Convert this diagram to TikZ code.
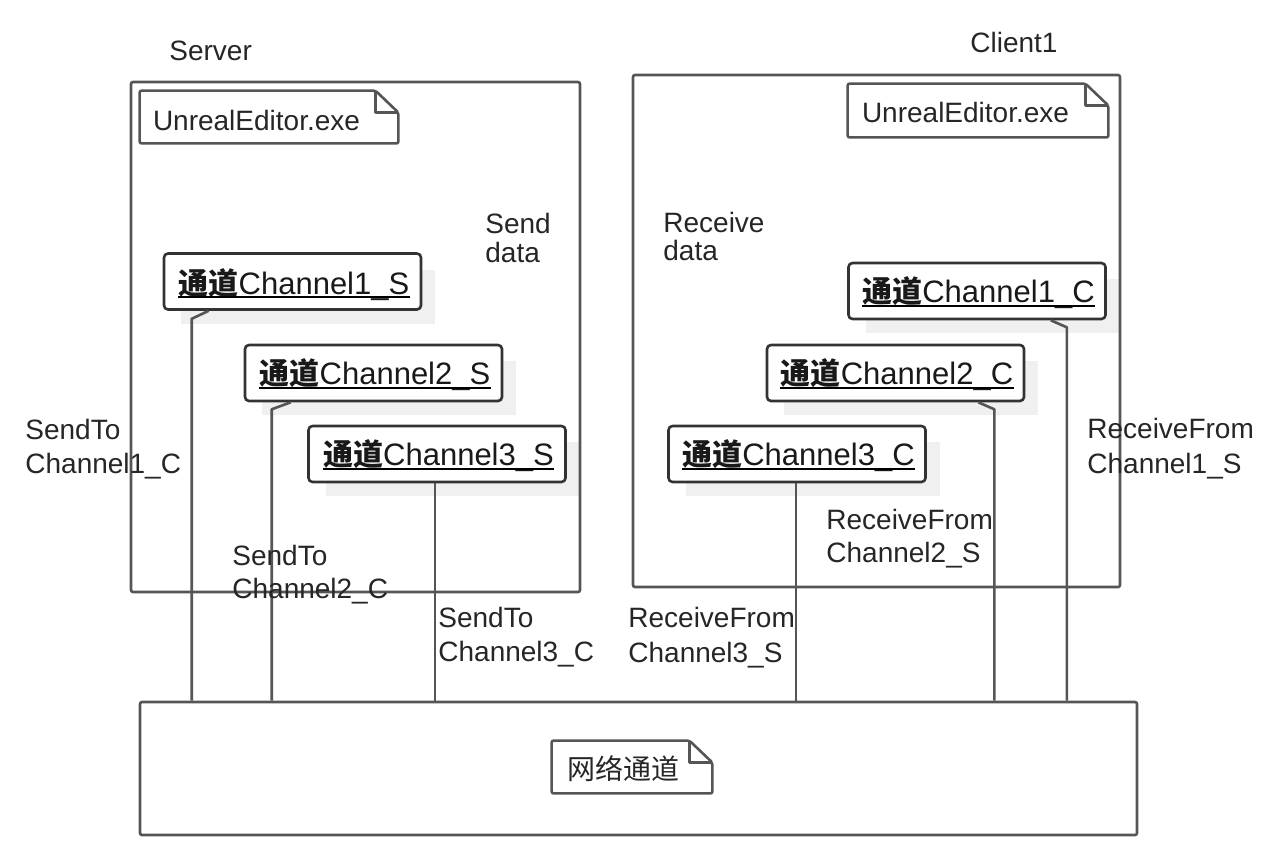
\documentclass[tikz,border=0pt]{standalone}
\usepackage{fontspec}
\setmainfont{Liberation Sans}
\newfontfamily\cjk{Noto Sans CJK SC}
\usetikzlibrary{calc}
\definecolor{lc}{HTML}{555555}
\definecolor{bc}{HTML}{333333}
\definecolor{shc}{HTML}{F0F0F0}
\newcommand{\tongdao}{{\cjk\bfseries\fontsize{15}{18}\selectfont 通道}}
\begin{document}
\begin{tikzpicture}[x=0.5pt,y=-0.5pt,line join=round,
  frame/.style={draw=lc,line width=1.3pt,rounded corners=1pt,inner sep=0pt},
  chbox/.style={draw=bc,line width=1.3pt,rounded corners=2pt,fill=white,inner sep=0pt,minimum width=128.5pt,minimum height=28pt},
  shbox/.style={fill=shc,draw=none,inner sep=0pt,minimum width=127pt,minimum height=27pt},
  notebox/.style={inner sep=0pt,draw=none},
  noteline/.style={draw=lc,line width=1.3pt,rounded corners=1pt},
  txt/.style={inner sep=0pt,anchor=base west,font=\fontsize{14}{17}\selectfont,text=black!85},
  chtxt/.style={inner sep=0pt,anchor=base,font=\fontsize{15.5}{18}\selectfont,text=black!90},
  uline/.style={draw=black,line width=1pt},
  conn/.style={draw=lc,line width=1.3pt}]
\useasboundingbox[fill=white] (0,0) rectangle (1279,856);

% shadows
\foreach \cx/\cy in {292.5/281.5,373.5/373,437/454,977/291,895.5/373,797/454}{
  \node[shbox] at (\cx+15.5,\cy+15) {};
}

% frames
\node[frame,minimum width=224.5pt,minimum height=255pt] (server) at (355.5,337) {};
\node[frame,minimum width=243.5pt,minimum height=256pt] (client) at (876.5,331) {};
\node[frame,minimum width=498.5pt,minimum height=66.5pt] (net) at (638.5,768.5) {};

\node[txt] (serverlbl) at (169,61) {Server};
\node[txt] (clientlbl) at (970,53) {Client1};

% notes
\node[notebox,minimum width=129pt,minimum height=26pt] (n1) at (269,117) {};
\node[notebox,minimum width=130pt,minimum height=26.5pt] (n2) at (978,110.5) {};
\node[notebox,minimum width=80pt,minimum height=26pt] (n3) at (632,767) {};
\foreach \n in {n1,n2,n3}{
  \draw[noteline] (\n.north west) -- ($(\n.north east)+(-23,0)$) -- ($(\n.north east)+(0,22)$) -- (\n.south east) -- (\n.south west) -- cycle;
  \draw[noteline,rounded corners=0pt] ($(\n.north east)+(-23,0)$) -- ($(\n.north east)+(-23,22)$) -- ($(\n.north east)+(0,22)$);
}
\node[txt] (n1t) at ($(n1.north west)+(13,40)$) {UnrealEditor.exe};
\node[txt] (n2t) at ($(n2.north west)+(14,39)$) {UnrealEditor.exe};
\node[txt] (n3t) at ($(n3.north west)+(15,39)$) {\cjk 网络通道};

% channel boxes
\node[chbox] (s1) at (292.5,281.5) {};
\node[chbox] (s2) at (373.5,373) {};
\node[chbox] (s3) at (437,454) {};
\node[chbox] (c1) at (977,291) {};
\node[chbox] (c2) at (895.5,373) {};
\node[chbox] (c3) at (797,454) {};

\node[chtxt] (s1t) at ($(s1.north)+(1.5,42)$) {\tongdao Channel1\_S};
\node[chtxt] (s2t) at ($(s2.north)+(1.5,41)$) {\tongdao Channel2\_S};
\node[chtxt] (s3t) at ($(s3.north)+(1.5,41)$) {\tongdao Channel3\_S};
\node[chtxt] (c1t) at ($(c1.north)+(1.5,41)$) {\tongdao Channel1\_C};
\node[chtxt] (c2t) at ($(c2.north)+(1.5,41)$) {\tongdao Channel2\_C};
\node[chtxt] (c3t) at ($(c3.north)+(1.5,41)$) {\tongdao Channel3\_C};
\foreach \t in {s1t,s2t,s3t,c1t,c2t,c3t}{
  \draw[uline] ([yshift=-1.6pt]\t.base west) -- ([yshift=-1.6pt]\t.base east);
}

% connectors
\draw[conn] ($(s1.south west)+(46,0)$) -- ++(-17,8) coordinate (j1) -- (j1 |- net.north);
\draw[conn] ($(s2.south west)+(47,0)$) -- ++(-19,7) coordinate (j2) -- (j2 |- net.north);
\draw[conn] ($(s3.south)+(-2,0)$) coordinate (j3) -- (j3 |- net.north);
\draw[conn] ($(c3.south)+(-1,0)$) coordinate (j4) -- (j4 |- net.north);
\draw[conn] ($(c2.south east)+(-47,0)$) -- ++(16,7) coordinate (j5) -- (j5 |- net.north);
\draw[conn] ($(c1.south east)+(-56,0)$) -- ++(16,7) coordinate (j6) -- (j6 |- net.north);

% labels
\node[txt] (sd1) at (485,233) {Send};
\node[txt] (sd2) at (485,262) {data};
\node[txt] (rd1) at (663,232) {Receive};
\node[txt] (rd2) at (663,260) {data};
\node[txt] (l1a) at (25,439) {SendTo};
\node[txt] (l1b) at (25,473) {Channel1\_C};
\node[txt] (l2a) at (232,565) {SendTo};
\node[txt] (l2b) at (232,598) {Channel2\_C};
\node[txt] (l3a) at (438,627) {SendTo};
\node[txt] (l3b) at (438,661) {Channel3\_C};
\node[txt] (r3a) at (628,627) {ReceiveFrom};
\node[txt] (r3b) at (628,662) {Channel3\_S};
\node[txt] (r2a) at (826,529) {ReceiveFrom};
\node[txt] (r2b) at (826,562) {Channel2\_S};
\node[txt] (r1a) at (1087,438) {ReceiveFrom};
\node[txt] (r1b) at (1087,473) {Channel1\_S};
\end{tikzpicture}
\end{document}
